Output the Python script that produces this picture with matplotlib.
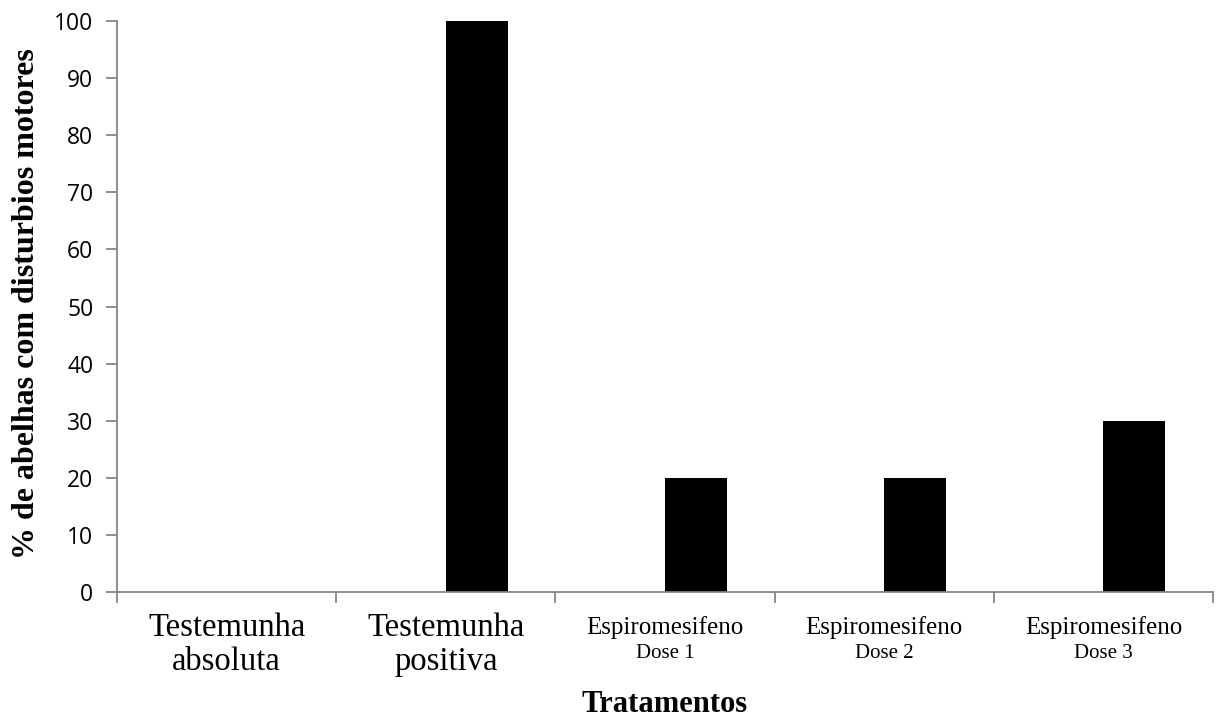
import numpy as np
import matplotlib
matplotlib.use("Agg")
import matplotlib.pyplot as plt
import matplotlib.transforms as mtransforms

categorias = ["Testemunha", "Testemunha", "Espiromesifeno", "Espiromesifeno", "Espiromesifeno"]
subtitulos = ["absoluta", "positiva", "Dose 1", "Dose 2", "Dose 3"]
valores = [0, 100, 20, 20, 30]

GRAY = "#868686"

fig = plt.figure(figsize=(12.26, 7.2), dpi=100)
ax = fig.add_axes([117 / 1226, 1 - 592 / 720, 1096 / 1226, 571 / 720])

ind = np.arange(len(valores))
ax.bar(ind + 0.5, valores, width=0.283, align="edge", color="black")

ax.set_xlim(0, len(valores))
ax.set_ylim(0, 100)
ax.set_yticks(np.arange(0, 101, 10))
ax.set_xticks(np.arange(0, len(valores) + 1))
ax.set_xticklabels([])

for s in ["top", "right"]:
    ax.spines[s].set_visible(False)
for s in ["left", "bottom"]:
    ax.spines[s].set_color(GRAY)
    ax.spines[s].set_linewidth(1.3)
ax.tick_params(axis="both", direction="out", color=GRAY, width=1.3, length=8)
ax.tick_params(axis="y", labelsize=16.5, pad=9)
for t in ax.get_yticklabels():
    t.set_family(["Open Sans", "DejaVu Sans"])

trans = mtransforms.blended_transform_factory(ax.transData, fig.transFigure)
for i, (c, s) in enumerate(zip(categorias, subtitulos)):
    big = 23.5 if c == "Testemunha" else 18
    ax.text(i + 0.5, 1 - 628 / 720, c, transform=trans, ha="center", va="center",
            family="Liberation Serif", fontsize=big)
    if s.startswith("Dose"):
        ax.text(i + 0.5, 1 - 654 / 720, s, transform=trans, ha="center", va="center",
                family="Liberation Serif", fontsize=15)
    else:
        ax.text(i + 0.5, 1 - 662 / 720, s, transform=trans, ha="center", va="center",
                family="Liberation Serif", fontsize=big)

fig.text(665 / 1226, 1 - 705 / 720, "Tratamentos", ha="center", va="center",
         family="Liberation Serif", fontweight="bold", fontsize=22)
fig.text(27 / 1226, 1 - 304 / 720, "% de abelhas com disturbios motores", rotation=90,
         ha="center", va="center", family="Liberation Serif", fontweight="bold", fontsize=23)

fig.savefig("out.png", dpi=100)
